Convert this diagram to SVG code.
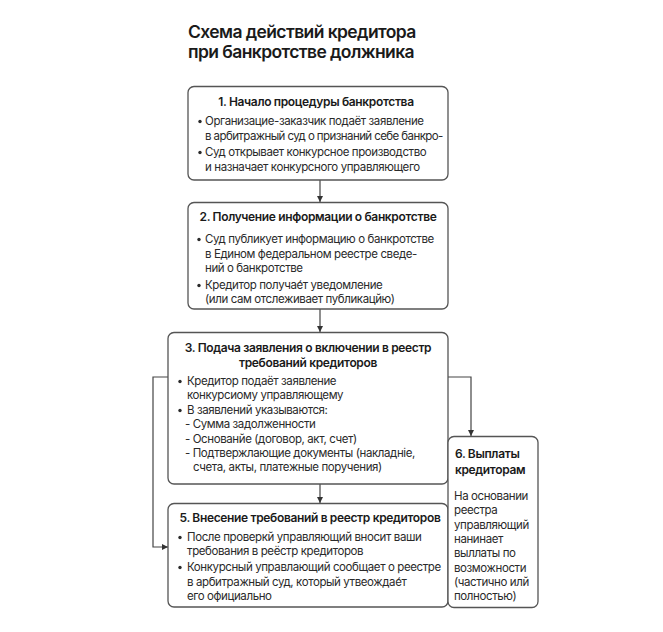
<svg xmlns="http://www.w3.org/2000/svg" width="663" height="632" viewBox="0 0 663 632">
<defs>
<marker id="arr" viewBox="0 0 10 10" refX="10" refY="5" markerWidth="6" markerHeight="6" markerUnits="userSpaceOnUse" orient="auto">
<path d="M0,0 L10,5 L0,10 z" fill="#333"/>
</marker>
<style>
.box{fill:#fff;stroke:#555;stroke-width:1.3}
.t{font-family:Inter,"Noto Sans",sans-serif;font-size:11.5px;letter-spacing:-0.4px;fill:#2a2a2a}
.h{font-family:Inter,"Noto Sans",sans-serif;font-size:12px;letter-spacing:-0.35px;font-weight:600;fill:#1a1a1a}
.title{font-family:Inter,"Noto Sans",sans-serif;font-size:17.5px;letter-spacing:-0.6px;font-weight:600;fill:#1a1a1a}
.c{fill:none;stroke:#444;stroke-width:1.2}
.b{fill:#2a2a2a}
</style>
</defs>
<rect width="663" height="632" fill="#fff"/>
<g id="title">
<text class="title" x="188" y="38">Схема действий кредитора</text>
<text class="title" x="188" y="58">при банкротстве должника</text>
</g>
<g id="connectors">
<line class="c" x1="320" y1="180" x2="320" y2="202" marker-end="url(#arr)"/>
<line class="c" x1="320" y1="309" x2="320" y2="332" marker-end="url(#arr)"/>
<line class="c" x1="320" y1="484" x2="320" y2="503" marker-end="url(#arr)"/>
<polyline class="c" points="168,377 153,377 153,547 168,547" marker-end="url(#arr)"/>
<polyline class="c" points="448,377 471,377 471,436" marker-end="url(#arr)"/>
</g>
<g id="node1">
<rect class="box" x="188" y="86.5" width="260" height="93.5" rx="6"/>
<text class="h" x="316" y="106" text-anchor="middle">1. Начало процедуры банкротства</text>
<circle class="b" cx="200" cy="121.5" r="1.7"/>
<text class="t" x="205" y="125">Организацие-заказчик подаёт заявление</text>
<text class="t" x="205" y="139.5" textLength="238" lengthAdjust="spacing">в арбитражный суд о признаний себе банкро-</text>
<circle class="b" cx="200" cy="152.5" r="1.7"/>
<text class="t" x="205" y="156">Суд открывает конкурсное производство</text>
<text class="t" x="205" y="170.5">и назначает конкурсного управляющего</text>
</g>
<g id="node2">
<rect class="box" x="188" y="202.5" width="260" height="106.5" rx="6"/>
<text class="h" x="318" y="221" text-anchor="middle">2. Получение информации о банкротстве</text>
<circle class="b" cx="199" cy="239.5" r="1.7"/>
<text class="t" x="205" y="243">Суд публикует информацию о банкротстве</text>
<text class="t" x="205" y="257.5">в Едином федеральном реестре сведе-</text>
<text class="t" x="205" y="272">ний о банкротстве</text>
<circle class="b" cx="199" cy="285.5" r="1.7"/>
<text class="t" x="205" y="289">Кредитор получае́т уведомление</text>
<text class="t" x="205" y="303">(или сам отслеживает публикацйю)</text>
</g>
<g id="node3">
<rect class="box" x="168" y="332.5" width="280" height="151.5" rx="6"/>
<text class="h" x="308" y="352" text-anchor="middle">3. Подача заявления о включении в реестр</text>
<text class="h" x="308" y="367" text-anchor="middle">требований кредиторов</text>
<circle class="b" cx="180" cy="381.5" r="1.7"/>
<text class="t" x="187" y="385">Кредитор подаёт заявление</text>
<text class="t" x="187" y="399">конкурсиому управляющему</text>
<circle class="b" cx="180" cy="410.5" r="1.7"/>
<text class="t" x="187" y="414">В заявлений указываются:</text>
<text class="t" x="185" y="428">- Сумма задолженности</text>
<text class="t" x="185" y="443">- Основанйе (договор, акт, счет)</text>
<text class="t" x="185" y="457">- Подтвержлающие документы (накладніе,</text>
<text class="t" x="193" y="471">счета, акты, платежные поручения)</text>
</g>
<g id="node5">
<rect class="box" x="168" y="503.5" width="280" height="103.5" rx="6"/>
<text class="h" x="310" y="522" text-anchor="middle">5. Внесение требований в реестр кредиторов</text>
<circle class="b" cx="180" cy="537.5" r="1.7"/>
<text class="t" x="187" y="541">После проверкй управляющий вносит ваши</text>
<text class="t" x="187" y="555">требования в реёстр кредиторов</text>
<circle class="b" cx="180" cy="567.5" r="1.7"/>
<text class="t" x="187" y="571">Конкурсный управлающий сообщает о реестре</text>
<text class="t" x="187" y="586">в арбитражный суд, который утвеождае́т</text>
<text class="t" x="187" y="600">его официально</text>
</g>
<g id="node6">
<rect class="box" x="448" y="436.5" width="90" height="171" rx="6"/>
<text class="h" x="455" y="458">6. Выплаты</text>
<text class="h" x="455" y="474">кредиторам</text>
<text class="t" x="454" y="500">На основании</text>
<text class="t" x="454" y="514.3">реестра</text>
<text class="t" x="454" y="528.6">управляющий</text>
<text class="t" x="454" y="542.9">нанинает</text>
<text class="t" x="454" y="557.2">выллаты по</text>
<text class="t" x="454" y="571.5">возможности</text>
<text class="t" x="454" y="585.8">(частично илй</text>
<text class="t" x="454" y="600">полностью)</text>
</g>
</svg>
